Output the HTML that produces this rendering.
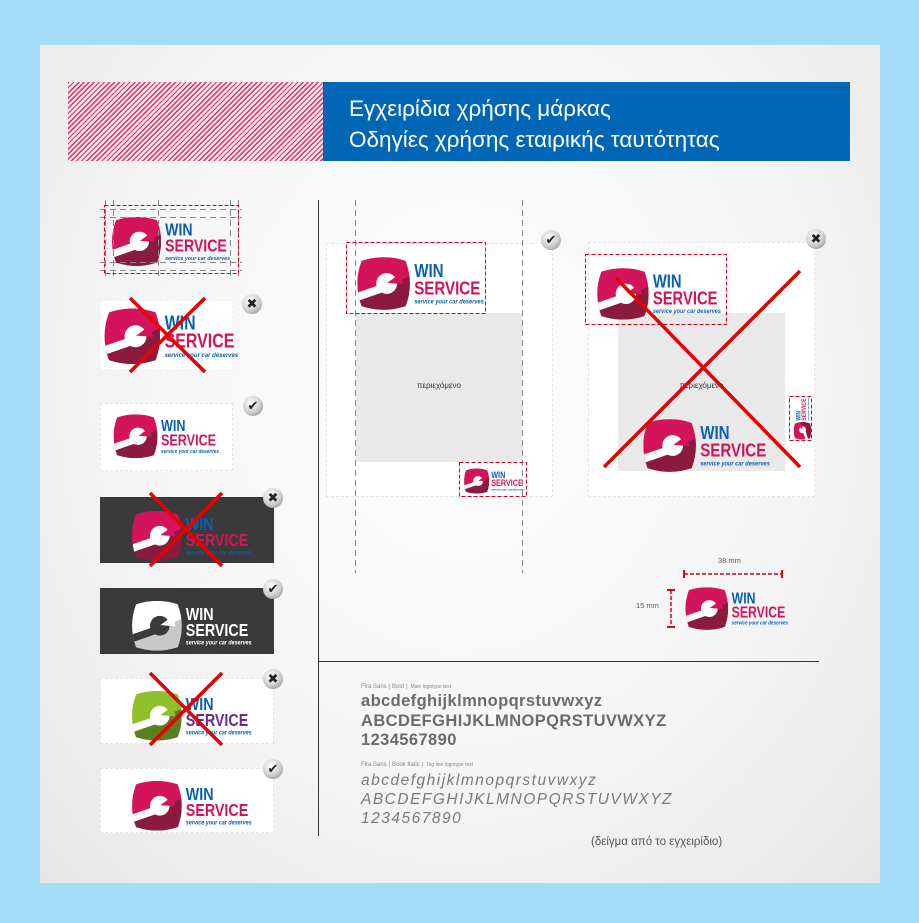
<!DOCTYPE html>
<html><head><meta charset="utf-8"><style>
*{margin:0;padding:0;box-sizing:border-box}
body{width:919px;height:923px;background:#a5dcf5;position:relative;overflow:hidden;font-family:"Liberation Sans","DejaVu Sans",sans-serif}
.panel{position:absolute;left:40px;top:45px;width:840px;height:838px;background:radial-gradient(ellipse at 50% 40%,#fdfdfd 0%,#f5f5f5 55%,#e6e6e6 100%)}
.abs{position:absolute}
.hatch{left:68px;top:82px;width:256px;height:79px;background:repeating-linear-gradient(135deg,#d9305c 0 1.3px,#fbe4ec 1.3px 3.6px)}
.blue{left:323px;top:82px;width:527px;height:79px;background:#0166b6;color:#fff;font-size:22.5px;line-height:31px;padding:11px 0 0 26px}
.logo{position:absolute;width:140px;height:70px;transform-origin:0 0}
.logo svg{position:absolute;left:0;top:4px;width:68px;height:62px}
.logo .w,.logo .s{position:absolute;left:68px;font-weight:bold;font-size:21px;line-height:21px;transform:scaleX(.8);transform-origin:0 0}
.logo .w{top:11px;color:#0a5fb4}
.logo .s{top:30px;color:#d4145a}
.logo .t{position:absolute;left:68px;top:52px;font-size:7px;font-style:italic;font-weight:bold;color:#0a5fb4;white-space:nowrap;transform:scaleX(.9);transform-origin:0 0}
.pk{--a:#d4145a;--b:#8b1a3f;--c:#fff}
.wh{--a:#fff;--b:#c8c8c8;--c:#3a3a3a}
.wh .w,.wh .s,.wh .t{color:#fff}
.gr{--a:#8fbf2b;--b:#5a7f1d;--c:#fff}
.gr .s{color:#6a2c91}
.box{position:absolute;background:#fff;border:1px dashed #e4e4e4}
.dark{position:absolute;background:#3a3a3a}
.gray{position:absolute;background:#e9e9e9}
.ic{position:absolute;width:20px;height:20px;border-radius:50%;background:radial-gradient(circle at 40% 35%,#fff 0%,#ccc 55%,#777 100%);font-size:13px;line-height:20px;text-align:center;color:#222;font-weight:bold}
.tb{font-weight:bold;color:#6b6b6b;font-size:16.5px;line-height:19.5px;letter-spacing:0.4px}
.ti{font-style:italic;color:#7a7a7a;font-size:15.5px;line-height:19px;letter-spacing:1.5px}
.sm{font-size:5px;color:#888}
</style></head><body>
<svg width="0" height="0" style="position:absolute">
<defs>
<clipPath id="cb"><path d="M14 8 Q50 -4 86 8 Q100 45 86 82 Q50 94 14 82 Q0 45 14 8Z"/></clipPath>
<symbol id="icp" viewBox="0 0 100 90">
<g clip-path="url(#cb)">
<rect width="100" height="90" style="fill:var(--a)"/>
<polygon points="0,70 40,55 100,30 100,90 0,90" style="fill:var(--b)"/>
<line x1="50" y1="52" x2="-2" y2="70" style="stroke:var(--c)" stroke-width="13" stroke-linecap="round"/>
<circle cx="55" cy="45" r="17" style="fill:var(--c)"/>
<polygon points="56,44 78,28 82,46" style="fill:var(--a)"/>
</g>
</symbol>
</defs></svg>
<div class="panel"></div>
<div class="abs hatch"></div>
<div class="abs blue">Εγχειρίδια χρήσης μάρκας<br>Οδηγίες χρήσης εταιρικής ταυτότητας</div>

<div class="logo pk" style="left:108px;top:212px;transform:scale(.84)"><svg viewBox="0 0 100 90"><use href="#icp"/></svg><div class="w">WIN</div><div class="s">SERVICE</div><div class="t">service your car deserves</div></div>

<div class="box" style="left:100px;top:300px;width:133px;height:70px;border-color:#f0f0f0"></div>
<div class="logo pk" style="left:100px;top:303px;transform:scale(.95)"><svg viewBox="0 0 100 90"><use href="#icp"/></svg><div class="w">WIN</div><div class="s">SERVICE</div><div class="t">service your car deserves</div></div>
<div class="ic" style="left:242px;top:294px">✖</div>

<div class="box" style="left:100px;top:403px;width:133px;height:68px"></div>
<div class="logo pk" style="left:110px;top:410px;transform:scale(.75)"><svg viewBox="0 0 100 90"><use href="#icp"/></svg><div class="w">WIN</div><div class="s">SERVICE</div><div class="t">service your car deserves</div></div>
<div class="ic" style="left:243px;top:396px">✔</div>

<div class="dark" style="left:100px;top:497px;width:174px;height:66px"></div>
<div class="logo pk" style="left:128px;top:506px;transform:scale(.85)"><svg viewBox="0 0 100 90"><use href="#icp"/></svg><div class="w">WIN</div><div class="s">SERVICE</div><div class="t">service your car deserves</div></div>
<div class="ic" style="left:263px;top:488px">✖</div>

<div class="dark" style="left:100px;top:588px;width:174px;height:66px"></div>
<div class="logo wh" style="left:128px;top:596px;transform:scale(.85)"><svg viewBox="0 0 100 90"><use href="#icp"/></svg><div class="w">WIN</div><div class="s">SERVICE</div><div class="t">service your car deserves</div></div>
<div class="ic" style="left:263px;top:579px">✔</div>

<div class="box" style="left:100px;top:678px;width:174px;height:66px"></div>
<div class="logo gr" style="left:128px;top:686px;transform:scale(.85)"><svg viewBox="0 0 100 90"><use href="#icp"/></svg><div class="w">WIN</div><div class="s">SERVICE</div><div class="t">service your car deserves</div></div>
<div class="ic" style="left:263px;top:669px">✖</div>

<div class="box" style="left:100px;top:768px;width:174px;height:65px"></div>
<div class="logo pk" style="left:128px;top:776px;transform:scale(.85)"><svg viewBox="0 0 100 90"><use href="#icp"/></svg><div class="w">WIN</div><div class="s">SERVICE</div><div class="t">service your car deserves</div></div>
<div class="ic" style="left:263px;top:759px">✔</div>

<div class="box" style="left:326px;top:243px;width:227px;height:254px"></div>
<div class="gray" style="left:356px;top:313px;width:166px;height:149px"></div>
<div class="abs" style="left:356px;top:381px;width:166px;text-align:center;font-size:8px;color:#333">περιεχόμενο</div>
<div class="logo pk" style="left:353px;top:252px;transform:scale(.9)"><svg viewBox="0 0 100 90"><use href="#icp"/></svg><div class="w">WIN</div><div class="s">SERVICE</div><div class="t">service your car deserves</div></div>
<div class="logo pk" style="left:462px;top:466px;transform:scale(.43)"><svg viewBox="0 0 100 90"><use href="#icp"/></svg><div class="w">WIN</div><div class="s">SERVICE</div><div class="t">service your car deserves</div></div>
<div class="ic" style="left:541px;top:230px">✔</div>

<div class="box" style="left:588px;top:242px;width:227px;height:255px"></div>
<div class="gray" style="left:618px;top:313px;width:167px;height:158px"></div>
<div class="abs" style="left:618px;top:381px;width:167px;text-align:center;font-size:8px;color:#333">περιεχόμενο</div>
<div class="logo pk" style="left:593px;top:263px;transform:scale(.88)"><svg viewBox="0 0 100 90"><use href="#icp"/></svg><div class="w">WIN</div><div class="s">SERVICE</div><div class="t">service your car deserves</div></div>
<div class="logo pk" style="left:639px;top:414px;transform:scale(.9)"><svg viewBox="0 0 100 90"><use href="#icp"/></svg><div class="w">WIN</div><div class="s">SERVICE</div><div class="t">service your car deserves</div></div>
<div class="logo pk" style="left:792px;top:441px;transform:rotate(-90deg) scale(.3)"><svg viewBox="0 0 100 90"><use href="#icp"/></svg><div class="w">WIN</div><div class="s">SERVICE</div><div class="t">service your car deserves</div></div>
<div class="ic" style="left:806px;top:229px">✖</div>

<div class="logo pk" style="left:682px;top:583px;transform:scale(.73)"><svg viewBox="0 0 100 90"><use href="#icp"/></svg><div class="w">WIN</div><div class="s">SERVICE</div><div class="t">service your car deserves</div></div>
<div class="abs" style="left:718px;top:556px;font-size:7.5px;color:#555">38 mm</div>
<div class="abs" style="left:636px;top:601px;font-size:7.5px;color:#555">15 mm</div>

<div class="abs sm" style="left:361px;top:684px"><span style="font-size:6px">Fira Sans ( Bold )</span> &nbsp;Main logotype text</div>
<div class="abs tb" style="left:361px;top:692px">abcdefghijklmnopqrstuvwxyz<br>ABCDEFGHIJKLMNOPQRSTUVWXYZ<br>1234567890</div>
<div class="abs sm" style="left:361px;top:762px"><span style="font-size:6px">Fira Sans ( Book Italic )</span> &nbsp;Tag line logotype text</div>
<div class="abs ti" style="left:361px;top:771px">abcdefghijklmnopqrstuvwxyz<br>ABCDEFGHIJKLMNOPQRSTUVWXYZ<br>1234567890</div>
<div class="abs" style="left:591px;top:836px;font-size:11.5px;color:#555">(δείγμα από το εγχειρίδιο)</div>

<svg class="abs" style="left:0;top:0" width="919" height="923">
<g stroke="#333" stroke-width="1"><line x1="318.5" y1="200" x2="318.5" y2="836"/><line x1="318" y1="661.5" x2="819" y2="661.5"/></g>
<g stroke="#888" stroke-dasharray="6,4" fill="none"><line x1="355.5" y1="200" x2="355.5" y2="573"/><line x1="522.5" y1="200" x2="522.5" y2="573"/>
<line x1="100" y1="217.5" x2="242" y2="217.5"/><line x1="100" y1="262.5" x2="242" y2="262.5"/><line x1="100" y1="209.5" x2="242" y2="209.5"/><line x1="100" y1="270.5" x2="242" y2="270.5"/>
<line x1="105.5" y1="200" x2="105.5" y2="278"/><line x1="113.5" y1="200" x2="113.5" y2="278"/><line x1="158.5" y1="200" x2="158.5" y2="278"/><line x1="230.5" y1="200" x2="230.5" y2="278"/><line x1="238.5" y1="200" x2="238.5" y2="278"/></g>
<g stroke="#e0001a" stroke-dasharray="4,2" fill="none" stroke-width="1">
<rect x="104.5" y="205.5" width="134" height="68"/>
<rect x="346.5" y="242.5" width="139" height="71"/>
<rect x="459.5" y="462.5" width="67" height="34"/>
<rect x="585.5" y="254.5" width="141" height="70"/>
<rect x="789.5" y="396.5" width="22" height="44"/>
</g>
<g stroke="#e0001a" stroke-width="1.5" stroke-dasharray="4,2"><line x1="684" y1="574" x2="782" y2="574"/><line x1="671" y1="590" x2="671" y2="627"/></g>
<g stroke="#e0001a" stroke-width="2"><line x1="684" y1="570" x2="684" y2="578"/><line x1="782" y1="570" x2="782" y2="578"/><line x1="667" y1="590" x2="675" y2="590"/><line x1="667" y1="627" x2="675" y2="627"/></g>
<g stroke="#e60000" stroke-width="3.5">
<line x1="130" y1="298" x2="205" y2="372"/><line x1="205" y1="298" x2="130" y2="372"/>
<line x1="150" y1="493" x2="222" y2="566"/><line x1="222" y1="493" x2="150" y2="566"/>
<line x1="150" y1="673" x2="222" y2="745"/><line x1="222" y1="673" x2="150" y2="745"/>
<line x1="616" y1="278" x2="800" y2="467"/><line x1="800" y1="271" x2="604" y2="467"/>
</g>
</svg>
</body></html>
